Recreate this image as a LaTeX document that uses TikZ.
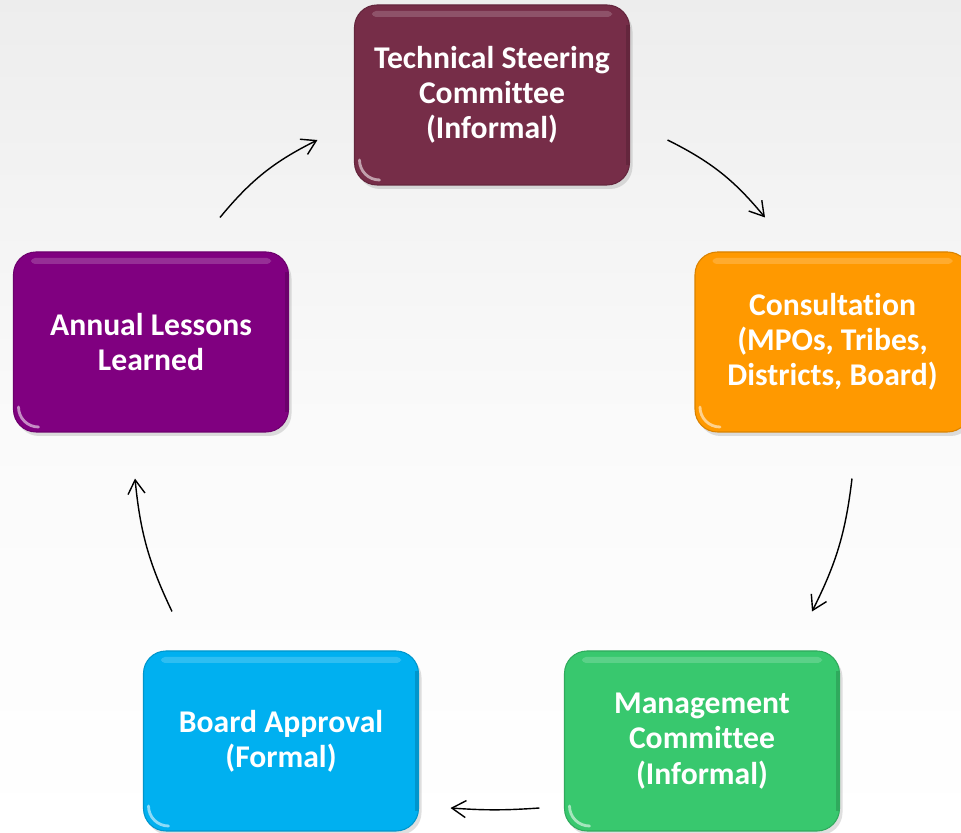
\documentclass[tikz,border=0pt]{standalone}
\usepackage{fontspec}
\setmainfont{Carlito}[Ligatures=NoCommon]
\usepackage{xcolor}
\usepackage{tikz}
\usetikzlibrary{positioning, calc, arrows.meta, shadows}
\definecolor{tscred}{RGB}{118,45,72}
\definecolor{consorange}{RGB}{255,153,0}
\definecolor{mgmtgreen}{RGB}{56,200,110}
\definecolor{boardblue}{RGB}{0,176,240}
\definecolor{lessonpurple}{RGB}{128,0,128}

\begin{document}
\begin{tikzpicture}[
    stage/.style={rectangle, rounded corners=0.45cm, fill=#1, draw=#1!85!black, line width=0.6pt,
        text=white, font=\fontsize{18}{20}\selectfont\bfseries, minimum width=5.5cm, minimum height=3.6cm,
        align=center, drop shadow={opacity=0.25, shadow xshift=0.06cm, shadow yshift=-0.08cm},
        path picture={
            \fill[white, opacity=0.18, rounded corners=0.08cm]
                ([xshift=0.35cm, yshift=-0.12cm]path picture bounding box.north west) rectangle
                ([xshift=-0.35cm, yshift=-0.24cm]path picture bounding box.north east);
            \draw[white, opacity=0.55, line width=1.6pt, line cap=round]
                ([xshift=0.1cm, yshift=0.5cm]path picture bounding box.south west)
                to[out=-90, in=180] ([xshift=0.5cm, yshift=0.1cm]path picture bounding box.south west);
            \draw[black, opacity=0.15, line width=2pt]
                ([xshift=-0.04cm, yshift=0.4cm]path picture bounding box.south east) --
                ([xshift=-0.04cm, yshift=-0.4cm]path picture bounding box.north east);
        }},
    arrow/.style={-{Straight Barb[length=2.8mm, width=3.4mm]}, line width=0.8pt, color=black}
]
    \useasboundingbox (0,0) rectangle (19.22,16.66);
    \shade[top color=gray!14, bottom color=white, middle color=gray!4] (0,0) rectangle (19.22,16.66);

    \node[stage=tscred] (tsc) at (9.84,14.76) {Technical Steering\\Committee\\(Informal)};
    \node[stage=consorange] (consult) at (16.65,9.82) {Consultation\\(MPOs, Tribes,\\Districts, Board)};
    \node[stage=mgmtgreen] (mgmt) at (14.04,1.84) {Management\\Committee\\(Informal)};
    \node[stage=boardblue] (board) at (5.62,1.84) {Board Approval\\(Formal)};
    \node[stage=lessonpurple] (lessons) at (3.02,9.82) {Annual Lessons\\Learned};

    \draw[arrow] ([shift={(1.38,0.68)}]lessons.north) to[bend left=12] ([shift={(-0.73,-0.9)}]tsc.west);
    \draw[arrow] ([shift={(0.75,-0.9)}]tsc.east) to[bend left=12] ([shift={(-1.35,0.68)}]consult.north);
    \draw[arrow] ([shift={(0.39,-0.92)}]consult.south) to[bend left=10] ([shift={(2.2,0.78)}]mgmt.north);
    \draw[arrow] ([shift={(-0.49,-1.34)}]mgmt.west) to[bend left=4] ([shift={(0.63,-1.34)}]board.east);
    \draw[arrow] ([shift={(-2.18,0.78)}]board.north) to[bend left=10] ([shift={(-0.32,-0.92)}]lessons.south);
\end{tikzpicture}
\end{document}
